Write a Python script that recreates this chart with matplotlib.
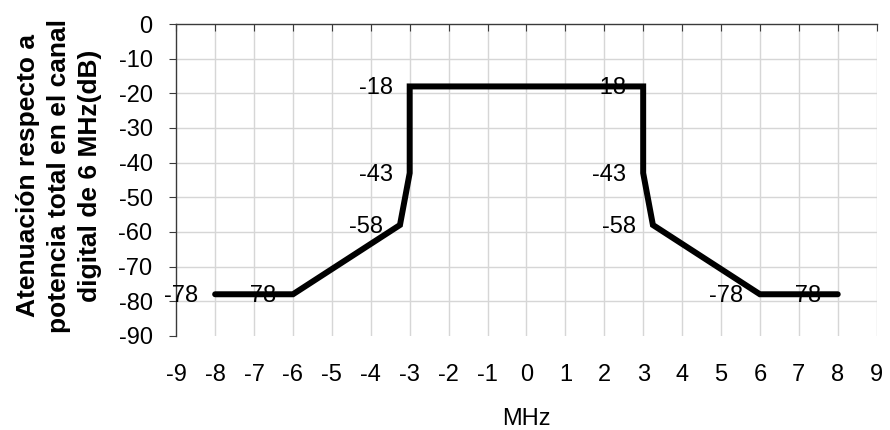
import matplotlib
matplotlib.use("Agg")
import matplotlib.pyplot as plt

plt.rcParams['font.family'] = ['Liberation Sans', 'DejaVu Sans']
plt.rcParams['axes.unicode_minus'] = False

# Mask points (MHz, dB)
freq = [-8, -6, -3.25, -3, -3, 3, 3, 3.25, 6, 8]
atten = [-78, -78, -58, -43, -18, -18, -43, -58, -78, -78]
xticks = list(range(-9, 10))
yticks = list(range(-90, 1, 10))

fig = plt.figure(figsize=(8.9, 4.3), dpi=100)
ax = fig.add_axes([0.198, 0.219, 0.787, 0.725])

ax.set_xlim(-9, 9)
ax.set_ylim(-90, 0)
ax.set_xticks(xticks)
ax.set_yticks(yticks)

# grid
for y in yticks[1:-1]:
    ax.axhline(y, color='#d6d6d6', lw=1.0, zorder=0)
for x in xticks[1:]:
    ax.axvline(x, color='#d6d6d6', lw=1.0, zorder=0)

ax.plot(freq, atten, color='black', lw=4.3, solid_capstyle='round',
        solid_joinstyle='miter', zorder=3)

for x, y in zip(freq, atten):
    ax.annotate(str(y), (x, y), xytext=(-17, -2), textcoords='offset pixels',
                ha='right', va='center', fontsize=17, zorder=4)

for s in ['right', 'bottom']:
    ax.spines[s].set_visible(False)
for s in ['left', 'top']:
    ax.spines[s].set_color('#3a3a3a')
    ax.spines[s].set_linewidth(1.0)

ax.tick_params(axis='x', top=True, bottom=False, labeltop=False, labelbottom=True,
               direction='in', length=5, color='#3a3a3a', labelsize=17, pad=20)
ax.tick_params(axis='y', direction='out', length=5, color='#3a3a3a',
               labelsize=17, pad=12)

ax.set_xlabel('MHz', fontsize=17, labelpad=16)
fig.text(0.066, 0.591, 'Atenuación respecto a\npotencia total en el canal\ndigital de 6 MHz(dB)',
         rotation=90, ha='center', va='center', fontsize=19, fontweight='bold',
         linespacing=1.38)

fig.savefig('out.png', dpi=100)
